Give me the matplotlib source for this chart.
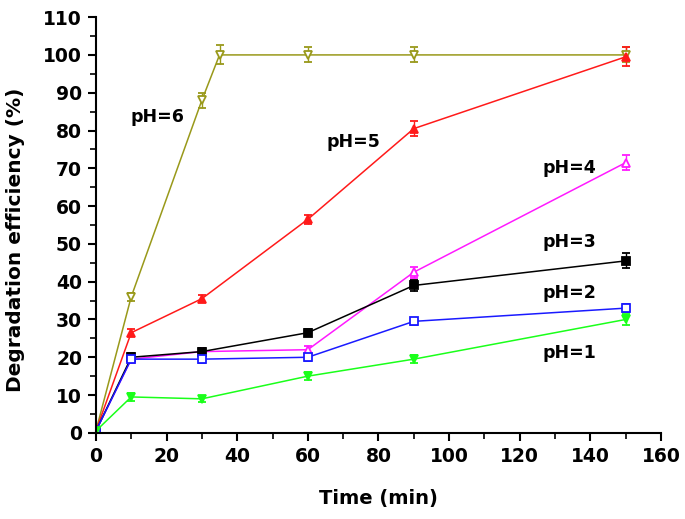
import matplotlib
matplotlib.use("Agg")
import matplotlib.pyplot as plt
from matplotlib.ticker import MultipleLocator

plt.rcParams['font.family'] = ['DejaVu Sans']
plt.rcParams['font.weight'] = 'bold'

t6 = [0, 10, 30, 35, 60, 90, 150]
ph6 = [0.5, 36, 88, 100, 100, 100, 100]
ph6_err = [0.5, 1, 2, 2.5, 2, 2, 2]

t = [0, 10, 30, 60, 90, 150]
ph5 = [0.5, 26.5, 35.5, 56.5, 80.5, 99.5]
ph5_err = [0.5, 1, 1, 1.2, 2, 2.5]
ph4 = [0.5, 19.5, 21.5, 22, 42.5, 71.5]
ph4_err = [0.5, 1, 1, 1, 1.5, 2]
ph3 = [0.5, 20, 21.5, 26.5, 39, 45.5]
ph3_err = [0.5, 1, 1, 1, 1.5, 2]
ph2 = [0.5, 19.5, 19.5, 20, 29.5, 33]
ph2_err = [0.5, 1, 1, 1, 1, 1]
ph1 = [0.5, 9.5, 9, 15, 19.5, 30]
ph1_err = [0.5, 1, 0.8, 1, 1, 1.5]

labels = ["pH=6", "pH=5", "pH=4", "pH=3", "pH=2", "pH=1"]
label_pos = [(17.5, 83.5), (73, 77), (134, 70), (134, 50.5), (134, 37), (134, 21)]

fig = plt.figure(figsize=(6.85, 5.19), dpi=100)
ax = fig.add_axes([0.140, 0.166, 0.825, 0.801])

series = [
    (t6, ph6, ph6_err, '#99991a', 'v', 'none'),
    (t, ph5, ph5_err, '#ff1a1a', '^', '#ff1a1a'),
    (t, ph4, ph4_err, '#ff1aff', '^', 'none'),
    (t, ph3, ph3_err, '#000000', 's', '#000000'),
    (t, ph2, ph2_err, '#1a1aff', 's', 'none'),
    (t, ph1, ph1_err, '#1aff1a', 'v', '#1aff1a'),
]
for x, y, e, c, m, fc in series:
    ax.errorbar(x, y, yerr=e, color=c, marker=m, markerfacecolor=fc if fc != 'none' else 'white',
                markeredgecolor=c, markersize=6, markeredgewidth=1.3, lw=1.1,
                elinewidth=1, capsize=3, capthick=1)

for lab, (x, y) in zip(labels, label_pos):
    ax.text(x, y, lab, fontsize=12.5, fontweight='bold', ha='center', va='center')

ax.set_xlim(0, 160)
ax.set_ylim(0, 110)
ax.xaxis.set_major_locator(MultipleLocator(20))
ax.xaxis.set_minor_locator(MultipleLocator(10))
ax.yaxis.set_major_locator(MultipleLocator(10))
ax.yaxis.set_minor_locator(MultipleLocator(5))
ax.spines['top'].set_visible(False)
ax.spines['right'].set_visible(False)
ax.spines['left'].set_linewidth(1.5)
ax.spines['bottom'].set_linewidth(1.5)
ax.tick_params(which='major', direction='out', length=6, width=1.5, labelsize=13.5, pad=4)
ax.tick_params(which='minor', direction='out', length=4, width=1.2)
for lbl in ax.get_xticklabels() + ax.get_yticklabels():
    lbl.set_fontweight('bold')
ax.set_xlabel("Time (min)", fontsize=14, fontweight='bold')
ax.set_ylabel("Degradation efficiency (%)", fontsize=14.5, fontweight='bold')
ax.xaxis.set_label_coords(0.5, -0.135)
ax.yaxis.set_label_coords(-0.125, 0.464)

fig.savefig("out.png", dpi=100)
